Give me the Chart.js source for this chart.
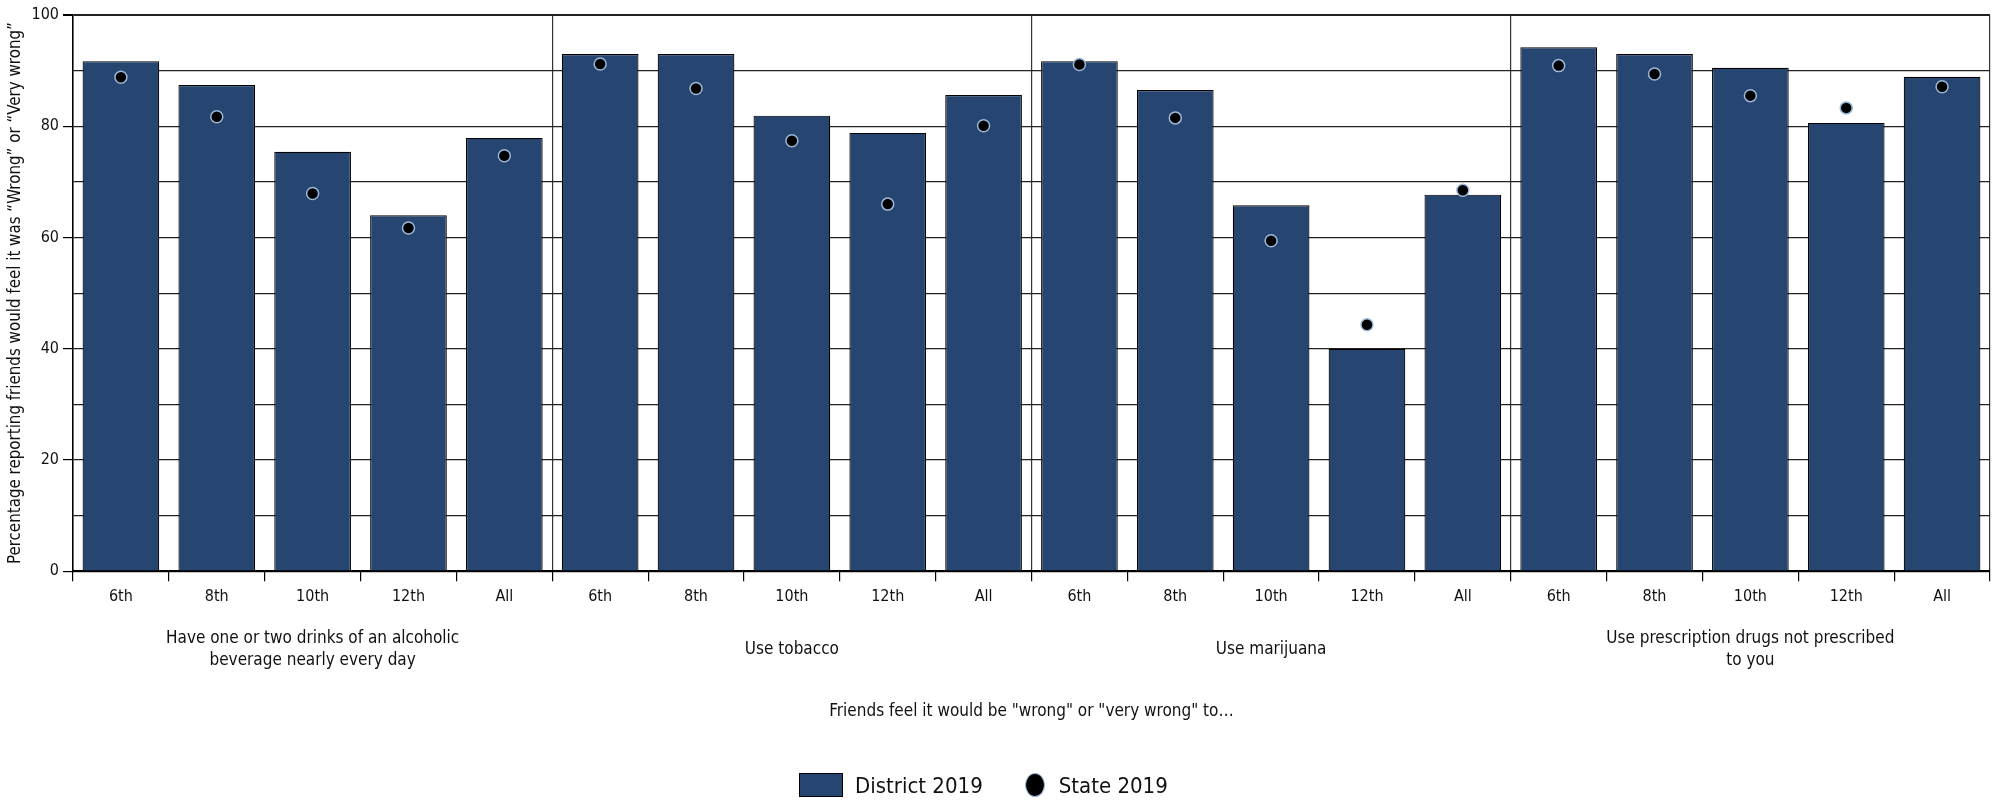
<!DOCTYPE html>
<html>
<head>
<meta charset="utf-8">
<script src="https://cdn.jsdelivr.net/npm/chart.js@4/dist/chart.umd.min.js"></script>
<style>
    html, body { margin: 0; padding: 0; background: #fff; }
    #wrap { position: relative; width: 1999px; height: 801px; }
    #legend {
        position: absolute; left: 799px; top: 771px; height: 28px;
        display: flex; align-items: center;
        font-family: 'Liberation Sans Narrow', 'DejaVu Sans Condensed', sans-serif;
        font-size: 22px; color: #111;
    }
    .box { width: 42px; height: 22px; background: #264570; border: 1.5px solid #000; margin-right: 12px; }
    .dot { width: 18px; height: 22px; border-radius: 50%; background: #000; border: 1.5px solid #9cb9dc; margin: 0 14px 0 42px; }
</style>
</head>
<body>
<div id="wrap">
    <canvas id="chart" width="1999" height="801"></canvas>
    <div id="legend">
        <span class="box"></span><span>District 2019</span>
        <span class="dot"></span><span>State 2019</span>
    </div>
</div>
<script>
// 1. DATOS
const grades = ['6th', '8th', '10th', '12th', 'All'];
const groups = [
    ['Have one or two drinks of an alcoholic', 'beverage nearly every day'],
    'Use tobacco',
    'Use marijuana',
    ['Use prescription drugs not prescribed', 'to you']
];
// District 2019 (barras), en el orden grupo x grado
const districtValues = [
    91.7, 87.4, 75.4, 64.0, 77.9,
    93.0, 93.0, 81.9, 78.8, 85.6,
    91.7, 86.5, 65.8, 40.0, 67.7,
    94.2, 93.0, 90.5, 80.6, 88.9
];
// State 2019 (puntos)
const stateValues = [
    88.8, 81.7, 67.9, 61.7, 74.7,
    91.2, 86.8, 77.4, 66.0, 80.1,
    91.1, 81.5, 59.4, 44.3, 68.5,
    90.9, 89.4, 85.5, 83.3, 87.1
];
const yTicks = [0, 20, 40, 60, 80, 100];

const yTitle = 'Percentage reporting friends would feel it was \u201CWrong\u201D or \u201CVery wrong\u201D';
const xTitle = 'Friends feel it would be "wrong" or "very wrong" to\u2026';

// 2. ETIQUETAS DEL EJE X
const gradeLabels = [];
const groupLabels = [];
groups.forEach(g => {
    grades.forEach((gr, i) => {
        gradeLabels.push(gr);
        groupLabels.push(i === 2 ? g : ''); // etiqueta del grupo en la categoria del centro
    });
});

const FONT = "'Liberation Sans Narrow', 'DejaVu Sans Condensed', sans-serif";

// 3. GRAFICA
const ctx = document.getElementById('chart').getContext('2d');
new Chart(ctx, {
    type: 'bar',
    data: {
        labels: gradeLabels,
        datasets: [
            {
                type: 'line',
                label: 'State 2019',
                data: stateValues,
                showLine: false,
                pointRadius: 6,
                pointBackgroundColor: '#000',
                pointBorderColor: '#9cb9dc',
                pointBorderWidth: 1.5,
                order: 1
            },
            {
                label: 'District 2019',
                data: districtValues,
                backgroundColor: '#264570',
                borderColor: '#000',
                borderWidth: 1.2,
                categoryPercentage: 1,
                barPercentage: 0.8,
                order: 2
            }
        ]
    },
    options: {
        responsive: false,
        animation: false,
        layout: { padding: { top: 15, right: 9, left: 0, bottom: 75 } },
        plugins: {
            legend: { display: false },
            tooltip: { enabled: false }
        },
        scales: {
            x: {
                offset: true,
                grid: {
                    offset: true,
                    drawOnChartArea: true,
                    color: (c) => (c.index === undefined || c.index % 5 === 0) ? '#333' : 'transparent',
                    lineWidth: 1.2,
                    tickColor: '#000',
                    tickLength: 10
                },
                border: { display: true, color: '#000', width: 2 },
                ticks: {
                    color: '#111',
                    font: { family: FONT, size: 16 },
                    padding: 6,
                    maxRotation: 0,
                    autoSkip: false
                }
            },
            x2: {
                type: 'category',
                labels: groupLabels,
                position: 'bottom',
                offset: true,
                grid: { display: false },
                border: { display: false },
                ticks: {
                    color: '#111',
                    font: { family: FONT, size: 17, lineHeight: 1.3 },
                    padding: 18,
                    maxRotation: 0,
                    minRotation: 0,
                    autoSkip: false,
                    crossAlign: 'center'
                },
                title: {
                    display: true,
                    text: xTitle,
                    color: '#111',
                    font: { family: FONT, size: 17 },
                    padding: { top: 1 }
                }
            },
            y: {
                min: 0,
                max: 100,
                afterFit: (s) => { s.width = 73; },
                afterBuildTicks: (s) => { s.ticks = Array.from({ length: 11 }, (_, i) => ({ value: i * 10 })); },
                grid: {
                    color: '#222',
                    lineWidth: (c) => (c.tick && c.tick.value === 100) ? 2 : 1.2,
                    tickColor: (c) => (c.tick && yTicks.includes(c.tick.value)) ? '#000' : 'transparent',
                    tickLength: 10
                },
                border: { display: true, color: '#000', width: 1.5 },
                ticks: {
                    color: '#111',
                    font: { family: FONT, size: 16 },
                    padding: 4,
                    callback: (v) => yTicks.includes(v) ? v : ''
                },
                title: {
                    display: true,
                    text: yTitle,
                    color: '#111',
                    font: { family: FONT, size: 16.8 },
                    padding: { top: 6, bottom: 2 }
                }
            }
        }
    }
});
</script>
</body>
</html>
